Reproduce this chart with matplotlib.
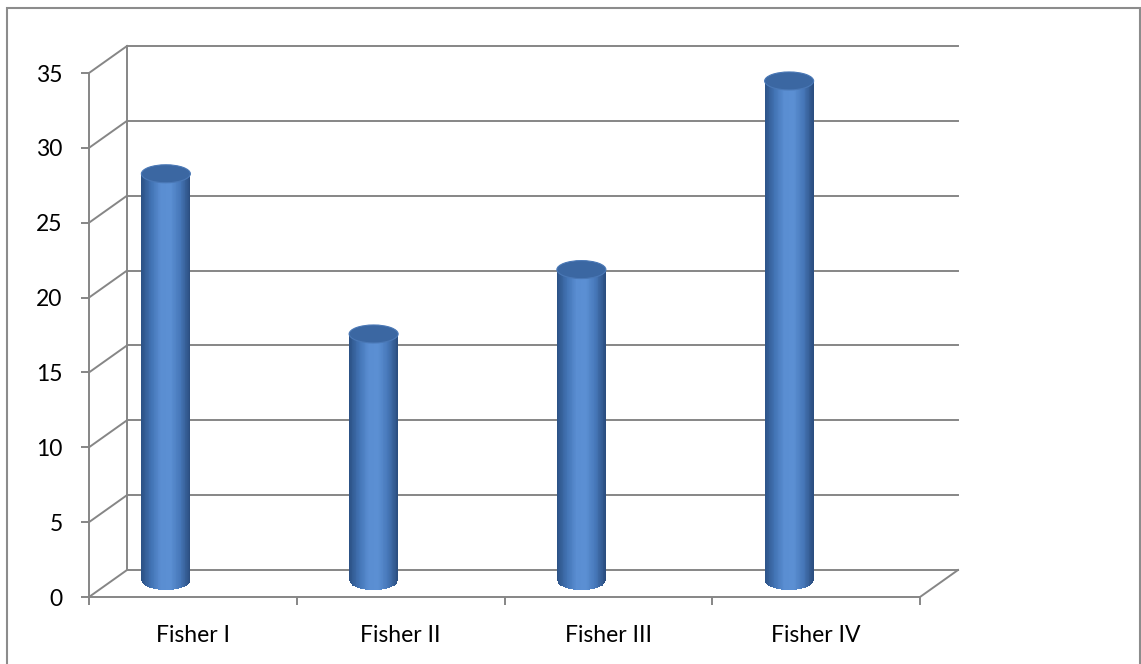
import numpy as np
import matplotlib
matplotlib.use("Agg")
import matplotlib.pyplot as plt
import matplotlib.transforms as mtransforms
from matplotlib.patches import Ellipse, Rectangle
from matplotlib.colors import LinearSegmentedColormap

plt.rcParams['font.family'] = ['Lato', 'DejaVu Sans']

categories = ["Fisher I", "Fisher II", "Fisher III", "Fisher IV"]
values = [27.2, 16.5, 20.8, 33.4]
yticks = [0, 5, 10, 15, 20, 25, 30, 35]

grid_col = "#868686"
W, H = 1141, 664

fig = plt.figure(figsize=(W / 100, H / 100), dpi=100)
# front plane of the 3-D box
ax = fig.add_axes([89 / W, (H - 597) / H, 831 / W, 524 / H])
ax.set_xlim(0, len(categories))
ax.set_ylim(0, 35)
ax.patch.set_visible(False)

# back wall is the front plane pushed up and to the right
back = mtransforms.offset_copy(ax.transData, fig=fig, x=38, y=27, units='dots')
cyl = mtransforms.offset_copy(ax.transData, fig=fig, x=-27, y=16, units='dots')

n = len(categories)
for t in yticks:
    ax.plot([0, n], [t, t], color=grid_col, lw=1.4, transform=back, clip_on=False, zorder=1)
    # diagonal from front axis to back wall
    x0, y0 = ax.transData.transform((0, t))
    x1, y1 = back.transform((0, t))
    ax.plot([x0, x1], [y0, y1], color=grid_col, lw=1.4, transform=None, clip_on=False, zorder=1)

# back wall left edge and floor
ax.plot([0, 0], [0, 35], color=grid_col, lw=1.4, transform=back, clip_on=False, zorder=1)
x0, y0 = ax.transData.transform((n, 0))
x1, y1 = back.transform((n, 0))
ax.plot([x0, x1], [y0, y1], color=grid_col, lw=1.4, transform=None, clip_on=False, zorder=1)

# cylinders
cmap = LinearSegmentedColormap.from_list(
    "cyl", ["#2c5286", "#4273b4", "#5a8ed2", "#5b8fd3", "#4677b8", "#2b4e80"])
cw = 49 / 207.75
eh = 18 / 14.97
ns = 60
u = np.linspace(-1, 1, ns)
dw = cw / ns
for i, v in enumerate(values):
    cx = i + 0.5
    xs = cx + u * (cw - dw) / 2
    bottoms = -eh / 2 * np.sqrt(np.clip(1 - u ** 2, 0, 1))
    cols = cmap((u + 1) / 2)
    ax.bar(xs, v - bottoms, width=dw * 1.15, bottom=bottoms, color=cols,
           linewidth=0, transform=cyl, clip_on=False, zorder=3)
    ax.add_patch(Ellipse((cx, v), cw, eh, facecolor="#3b67a2", edgecolor="#4a78b6",
                         lw=0.8, transform=cyl, clip_on=False, zorder=4))

# axes
for s in ["top", "right"]:
    ax.spines[s].set_visible(False)
for s in ["left", "bottom"]:
    ax.spines[s].set_color(grid_col)
    ax.spines[s].set_linewidth(1.4)
    ax.spines[s].set_zorder(2)

ax.set_yticks(yticks)
ax.tick_params(axis='y', length=6, width=1.4, color=grid_col, pad=13,
               labelsize=16.5, labelcolor="black")
ax.set_xticks(range(n + 1))
ax.set_xticklabels([])
ax.set_xticks(np.arange(n) + 0.5, minor=True)
ax.set_xticklabels(categories, minor=True)
ax.tick_params(axis='x', which='major', length=6, width=1.4, color=grid_col)
ax.tick_params(axis='x', which='minor', length=0, pad=20, labelsize=16.5, labelcolor="black")

# outer chart border
fig.patches.append(Rectangle((7 / W, -0.05), (1140 - 7) / W, 1.05 - 8 / H,
                             transform=fig.transFigure, fill=False,
                             edgecolor="#8c8c8c", lw=1.5))

fig.savefig("out.png", dpi=100)
